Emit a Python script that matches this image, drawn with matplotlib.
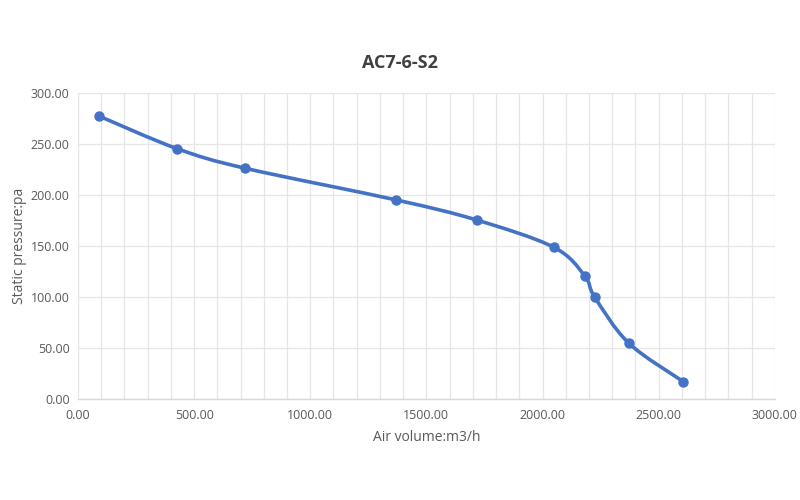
import matplotlib
matplotlib.use("Agg")
import matplotlib.pyplot as plt
from matplotlib.path import Path
from matplotlib.patches import PathPatch
from matplotlib.ticker import MultipleLocator, FormatStrFormatter

# values
air_volume = [90, 427, 720, 1371, 1716, 2049, 2182, 2225, 2372, 2606]
static_pressure = [277.7, 245.7, 226.5, 195.4, 175.8, 149.0, 120.9, 100.0, 54.9, 17.3]

title = "AC7-6-S2"
x_label = "Air volume:m3/h"
y_label = "Static pressure:pa"

line_color = "#4472C4"
text_color = "#595959"
grid_color = "#E6E6E6"

plt.rcParams['font.family'] = ['Open Sans', 'DejaVu Sans']


def smooth_path(xs, ys):
    # Excel-like smoothed line: cubic bezier segments, Catmull-Rom control points
    n = len(xs)
    verts = [(xs[0], ys[0])]
    codes = [Path.MOVETO]
    for i in range(n - 1):
        x0, y0 = (xs[i - 1], ys[i - 1]) if i > 0 else (xs[i], ys[i])
        x1, y1 = xs[i], ys[i]
        x2, y2 = xs[i + 1], ys[i + 1]
        x3, y3 = (xs[i + 2], ys[i + 2]) if i + 2 < n else (xs[i + 1], ys[i + 1])
        c1 = (x1 + (x2 - x0) / 6.0, y1 + (y2 - y0) / 6.0)
        c2 = (x2 - (x3 - x1) / 6.0, y2 - (y3 - y1) / 6.0)
        verts += [c1, c2, (x2, y2)]
        codes += [Path.CURVE4] * 3
    return Path(verts, codes)


fig = plt.figure(figsize=(8, 5), dpi=100)
ax = fig.add_axes([0.0975, 0.2014, 0.871, 0.612])

ax.add_patch(PathPatch(smooth_path(air_volume, static_pressure), facecolor="none",
                       edgecolor=line_color, lw=2.6, capstyle="round", zorder=3))
ax.plot(air_volume, static_pressure, linestyle="none", marker="o", ms=6.5,
        color=line_color, zorder=4)

ax.set_xlim(0, 3000)
ax.set_ylim(0, 300)
ax.xaxis.set_major_locator(MultipleLocator(500))
ax.xaxis.set_minor_locator(MultipleLocator(100))
ax.yaxis.set_major_locator(MultipleLocator(50))
ax.xaxis.set_major_formatter(FormatStrFormatter("%.2f"))
ax.yaxis.set_major_formatter(FormatStrFormatter("%.2f"))

ax.grid(True, which="both", axis="x", color=grid_color, lw=0.9)
ax.grid(True, which="major", axis="y", color=grid_color, lw=0.9)
ax.set_axisbelow(True)

for side in ("top", "right", "left"):
    ax.spines[side].set_visible(False)
ax.spines["bottom"].set_color("#D9D9D9")
ax.spines["bottom"].set_linewidth(1.0)

ax.tick_params(which="both", length=0, labelsize=9, colors=text_color)
ax.tick_params(axis="x", pad=7)
ax.tick_params(axis="y", pad=6)

ax.set_xlabel(x_label, fontsize=10, color=text_color, labelpad=6)
ax.set_ylabel(y_label, fontsize=10, color=text_color, labelpad=3)

fig.text(0.5, 0.874, title, ha="center", va="center", fontsize=13,
         fontweight="bold", color="#404040")

fig.savefig("out.png", dpi=100, facecolor="white")
